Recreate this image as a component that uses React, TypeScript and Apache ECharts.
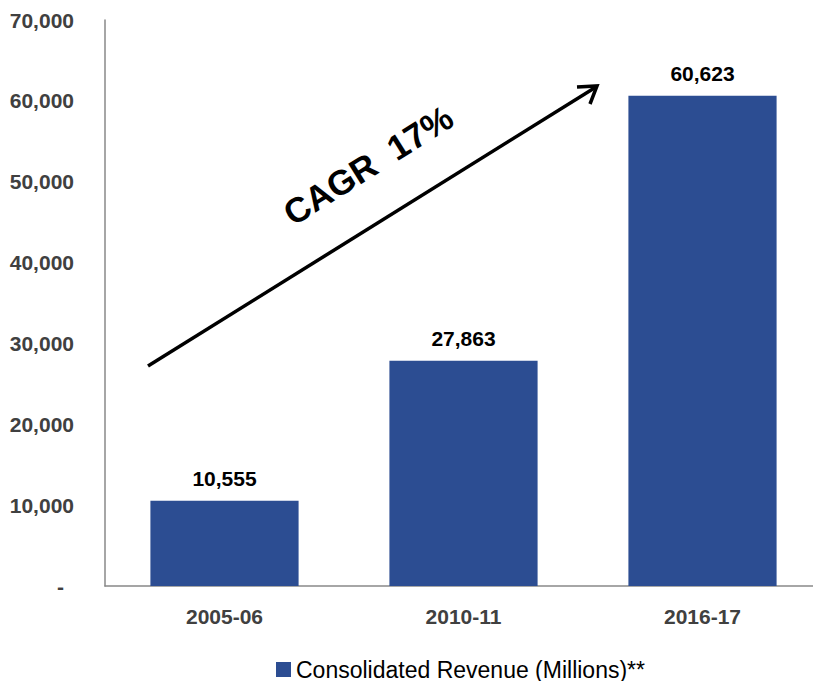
import React, { useEffect, useRef } from "react";
import * as echarts from "echarts";

const categories = ["2005-06", "2010-11", "2016-17"];
const revenue = [10555, 27863, 60623];
const seriesName = "Consolidated Revenue (Millions)**";
const yTicks = { min: 0, max: 70000, interval: 10000 };
const annotation = "CAGR  17%";

const FONT = "'Liberation Sans', Arial, sans-serif";

export default function App() {
  const ref = useRef<HTMLDivElement>(null);
  useEffect(() => {
    if (!ref.current) return;
    const chart = echarts.init(ref.current, undefined, { renderer: "svg" });
    const fmt = (v: number) => v.toLocaleString("en-US");
    chart.setOption({
      animation: false,
      grid: {
        left: 105,
        top: 20,
        width: 717,
        bottom: 95,
        containLabel: false,
        outerBoundsMode: "none",
      },
      legend: {
        left: 271,
        top: 653,
        itemWidth: 15,
        itemHeight: 15,
        itemGap: 7,
        icon: "rect",
        data: [seriesName],
        textStyle: { fontFamily: FONT, fontSize: 23, color: "#000" },
      },
      xAxis: {
        type: "category",
        data: categories,
        axisLine: { lineStyle: { color: "#888", width: 1.5 } },
        axisTick: { show: false },
        axisLabel: {
          margin: 20,
          fontFamily: FONT,
          fontWeight: "bold",
          fontSize: 21,
          color: "#404040",
        },
      },
      yAxis: {
        type: "value",
        min: yTicks.min,
        max: yTicks.max,
        interval: yTicks.interval,
        splitLine: { show: false },
        axisTick: { show: false },
        axisLine: { show: true, lineStyle: { color: "#888", width: 1.5 } },
        axisLabel: {
          margin: 31,
          fontFamily: FONT,
          fontWeight: "bold",
          fontSize: 21,
          color: "#404040",
          formatter: (v: number) => (v === 0 ? "{d|-}" : fmt(v)),
          rich: {
            d: {
              fontFamily: FONT,
              fontWeight: "bold",
              fontSize: 21,
              color: "#404040",
              padding: [0, 10, 0, 0],
            },
          },
        },
      },
      series: [
        {
          name: seriesName,
          type: "bar",
          data: revenue,
          barCategoryGap: "38%",
          itemStyle: { color: "#2C4D92" },
          label: {
            show: true,
            position: "top",
            distance: 12,
            fontFamily: FONT,
            fontWeight: "bold",
            fontSize: 21,
            color: "#000",
            formatter: (p: any) => fmt(p.value),
          },
        },
      ],
      graphic: [
        {
          type: "line",
          shape: { x1: 148, y1: 366, x2: 596, y2: 87 },
          style: { stroke: "#000", lineWidth: 3.5 },
        },
        {
          type: "polyline",
          shape: { points: [[577, 87], [597, 86], [590, 104]] },
          style: { stroke: "#000", lineWidth: 3.5, fill: null },
        },
        {
          type: "text",
          x: 368,
          y: 165,
          rotation: 0.56,
          style: {
            text: annotation,
            fontFamily: FONT,
            fontWeight: "bold",
            fontSize: 35,
            fill: "#000",
            align: "center",
            verticalAlign: "middle",
          },
        },
      ],
    });
    return () => chart.dispose();
  }, []);
  return (
    <div
      ref={ref}
      style={{ position: "absolute", left: 0, top: 0, width: 813, height: 681 }}
    />
  );
}
